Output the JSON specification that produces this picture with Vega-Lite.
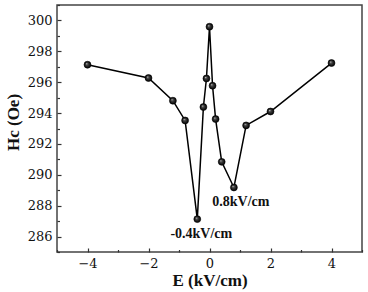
{
  "$schema": "https://vega.github.io/schema/vega-lite/v6.json",
  "width": 305,
  "height": 247,
  "autosize": {"type": "none"},
  "padding": {"left": 57, "top": 5, "right": 6, "bottom": 40},
  "background": "white",
  "config": {
    "view": {"stroke": "#444", "strokeWidth": 1.5},
    "font": "Liberation Serif",
    "text": {"font": "Liberation Serif"},
    "axis": {
      "grid": false,
      "domain": false,
      "labelFont": "DejaVu Serif",
      "labelFontSize": 13,
      "labelColor": "#111",
      "titleFont": "Liberation Serif",
      "titleFontSize": 17,
      "titleFontWeight": "bold",
      "titleColor": "#111",
      "tickColor": "#333",
      "tickWidth": 1.2
    }
  },
  "data": {
    "values": [
      {"E": -4, "Hc": 297.13},
      {"E": -2, "Hc": 296.27},
      {"E": -1.2, "Hc": 294.8},
      {"E": -0.8, "Hc": 293.52},
      {"E": -0.4, "Hc": 287.13},
      {"E": -0.2, "Hc": 294.39},
      {"E": -0.1, "Hc": 296.24},
      {"E": 0, "Hc": 299.59},
      {"E": 0.1, "Hc": 295.77},
      {"E": 0.2, "Hc": 293.61},
      {"E": 0.4, "Hc": 290.84},
      {"E": 0.8, "Hc": 289.18},
      {"E": 1.2, "Hc": 293.2},
      {"E": 2, "Hc": 294.1},
      {"E": 4, "Hc": 297.24}
    ]
  },
  "encoding": {
    "x": {
      "field": "E",
      "type": "quantitative",
      "scale": {"domain": [-5, 5], "nice": false, "zero": false},
      "axis": {
        "title": "E (kV/cm)",
        "values": [-5, -4, -3, -2, -1, 0, 1, 2, 3, 4, 5],
        "labelExpr": "datum.value % 2 === 0 && abs(datum.value) < 5 ? (datum.value < 0 ? '\u2212' + abs(datum.value) : '' + datum.value) : ''",
        "tickSize": {"condition": {"test": "datum.value % 2 === 0", "value": -4}, "value": -2.5},
        "labelPadding": 9,
        "titlePadding": 2
      }
    },
    "y": {
      "field": "Hc",
      "type": "quantitative",
      "scale": {"domain": [285, 301], "nice": false, "zero": false},
      "axis": {
        "title": "Hc (Oe)",
        "values": [285, 286, 287, 288, 289, 290, 291, 292, 293, 294, 295, 296, 297, 298, 299, 300, 301],
        "labelExpr": "datum.value % 2 === 0 ? '' + datum.value : ''",
        "tickSize": {"condition": {"test": "datum.value % 2 === 0", "value": -4}, "value": -2.5},
        "labelPadding": 9,
        "titlePadding": 5,
        "titleY": 117
      }
    }
  },
  "layer": [
    {"mark": {"type": "line", "color": "#000", "strokeWidth": 1.5}},
    {
      "mark": {
        "type": "point",
        "filled": true,
        "size": 48,
        "opacity": 1,
        "stroke": "#000",
        "strokeWidth": 0.6,
        "fill": {
          "gradient": "radial",
          "x1": 0.38, "y1": 0.35, "r1": 0,
          "x2": 0.5, "y2": 0.5, "r2": 0.5,
          "stops": [
            {"offset": 0, "color": "#cfcfcf"},
            {"offset": 0.3, "color": "#444"},
            {"offset": 1, "color": "#000"}
          ]
        }
      }
    },
    {
      "data": {"values": [{"E": -0.4, "Hc": 287.13, "label": "-0.4kV/cm"}]},
      "mark": {"type": "text", "font": "Liberation Serif", "fontSize": 14, "fontWeight": "bold", "color": "#111", "dx": 4, "dy": 15},
      "encoding": {"text": {"field": "label"}}
    },
    {
      "data": {"values": [{"E": 0.8, "Hc": 289.18, "label": "0.8kV/cm"}]},
      "mark": {"type": "text", "font": "Liberation Serif", "fontSize": 14, "fontWeight": "bold", "color": "#111", "dx": 7, "dy": 15},
      "encoding": {"text": {"field": "label"}}
    }
  ]
}
